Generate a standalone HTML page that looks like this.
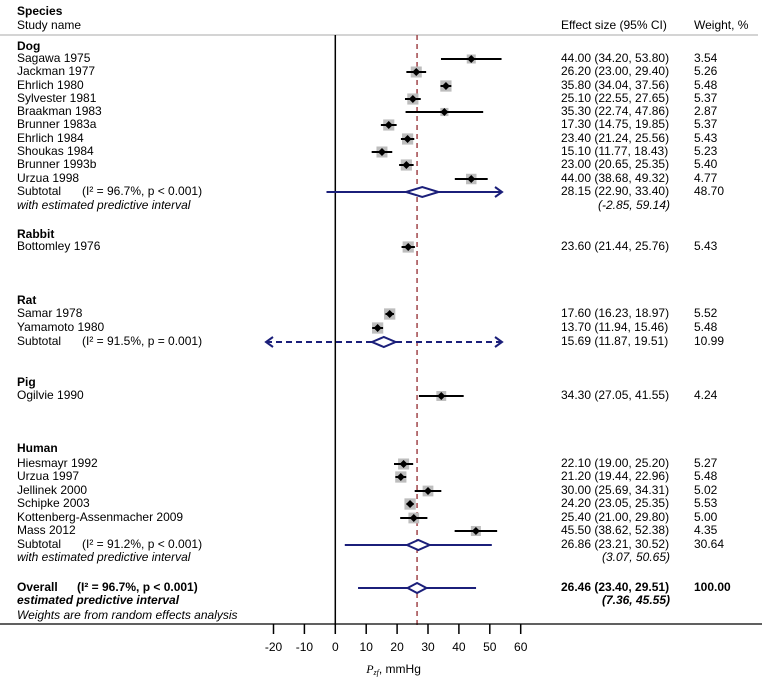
<!DOCTYPE html>
<html><head><meta charset="utf-8"><style>
body{margin:0;background:#fff}
svg{display:block;font-family:"Liberation Sans",Arial,sans-serif;font-size:12px}
</style></head><body>
<svg id="c" width="762" height="682"></svg>
<script>
const studies=["Sagawa 1975","Jackman 1977","Ehrlich 1980","Sylvester 1981","Braakman 1983","Brunner 1983a","Ehrlich 1984","Shoukas 1984","Brunner 1993b","Urzua 1998","Bottomley 1976","Samar 1978","Yamamoto 1980","Ogilvie 1990","Hiesmayr 1992","Urzua 1997","Jellinek 2000","Schipke 2003","Kottenberg-Assenmacher 2009","Mass 2012"];
const est=[44.00,26.20,35.80,25.10,35.30,17.30,23.40,15.10,23.00,44.00,23.60,17.60,13.70,34.30,22.10,21.20,30.00,24.20,25.40,45.50];
const lo=[34.20,23.00,34.04,22.55,22.74,14.75,21.24,11.77,20.65,38.68,21.44,16.23,11.94,27.05,19.00,19.44,25.69,23.05,21.00,38.62];
const hi=[53.80,29.40,37.56,27.65,47.86,19.85,25.56,18.43,25.35,49.32,25.76,18.97,15.46,41.55,25.20,22.96,34.31,25.35,29.80,52.38];
const wts=[3.54,5.26,5.48,5.37,2.87,5.37,5.43,5.23,5.40,4.77,5.43,5.52,5.48,4.24,5.27,5.48,5.02,5.53,5.00,4.35];
const rowY=[59,72,86,99,112,125,139,152,165,179,247,314,328,396,464,477,491,504,518,531];
const subLabels=["(I² = 96.7%, p < 0.001)","(I² = 91.5%, p = 0.001)","(I² = 91.2%, p < 0.001)"];
const subEst=[28.15,15.69,26.86];
const subLo=[22.90,11.87,23.21];
const subHi=[33.40,19.51,30.52];
const subW=["48.70","10.99","30.64"];
const subPredLo=[-2.85,-30,3.07];
const subPredHi=[59.14,60,50.65];
const subDashed=[false,true,false];
const subY=[192,342,545];
const predY=[206,null,558];
const overall=[26.46,23.40,29.51];
const overallPred=[7.36,45.55];
const ticks=[-20,-10,0,10,20,30,40,50,60];
const groups=[["Dog",47],["Rabbit",235],["Rat",301],["Pig",383],["Human",449]];

const svg=document.getElementById('c');const NS="http://www.w3.org/2000/svg";
const X=v=>335.3+v*3.09;const XMIN=266,XMAX=502;const LX=17;
const NAVY="#1b1f7a";
function el(t,a,p){const e=document.createElementNS(NS,t);for(const k in a)e.setAttribute(k,a[k]);(p||svg).appendChild(e);return e;}
function txt(s,x,y,o){const e=el('text',Object.assign({x:x,y:y,'dominant-baseline':'middle'},o||{}));e.textContent=s;return e;}
function f2(v){return v.toFixed(2);}

let t=txt("Species",LX,12,{'font-weight':'bold'});
t=txt("Study name",LX,26);
t=txt("Effect size (95% CI)",561,26);
t=txt("Weight, %",694,26);
let l=el('line',{x1:0,x2:758,y1:35,y2:35,stroke:'#bbb','stroke-width':1.2});

groups.forEach(g=>{const e=txt(g[0],LX,g[1],{'font-weight':'bold'});});

l=el('line',{x1:X(0),x2:X(0),y1:35,y2:625,stroke:'#000','stroke-width':1.5});
l=el('line',{x1:X(overall[0]),x2:X(overall[0]),y1:35,y2:625,stroke:'#a0464a','stroke-width':1.5,'stroke-dasharray':'5,4'});
l=el('line',{x1:0,x2:762,y1:624,y2:624,stroke:'#000','stroke-width':1.2});
ticks.forEach(v=>{const k=el('line',{x1:X(v),x2:X(v),y1:624,y2:634,stroke:'#000','stroke-width':1.5});
 const e=txt(String(v),X(v),648,{'text-anchor':'middle'});});
t=el('text',{x:X(10),y:670,'dominant-baseline':'middle'});t.innerHTML='<tspan font-family="Liberation Serif" font-style="italic">P<tspan font-size="8" dy="3">zf</tspan></tspan><tspan dy="-3">, mmHg</tspan>';


studies.forEach((s,i)=>{const y=rowY[i];
 let e=txt(s,LX,y);
 e=txt(f2(est[i])+" ("+f2(lo[i])+", "+f2(hi[i])+")",561,y);
 e=txt(f2(wts[i]),694,y);
 const sz=Math.sqrt(wts[i])*4.8,cx=X(est[i]);
 e=el('rect',{x:cx-sz/2,y:y-sz/2,width:sz,height:sz,fill:'#bdbdbd'});
 e=el('line',{x1:X(lo[i]),x2:X(hi[i]),y1:y,y2:y,stroke:'#000','stroke-width':2});
 e=el('polygon',{points:`${cx-4},${y} ${cx},${y-4} ${cx+4},${y} ${cx},${y+4}`,fill:'#000'});
});

function predLine(a,b,y,dashed){
 const x1=Math.max(XMIN,X(a)),x2=Math.min(XMAX,X(b));
 const o={x1:x1,x2:x2,y1:y,y2:y,stroke:NAVY,'stroke-width':2};if(dashed)o['stroke-dasharray']='6,4';
 const e=el('line',o);
 if(X(b)>XMAX){const h=el('path',{d:`M${x2-7},${y-5} L${x2},${y} L${x2-7},${y+5}`,stroke:NAVY,'stroke-width':2,fill:'none'});}
 if(X(a)<XMIN){const h=el('path',{d:`M${x1+7},${y-5} L${x1},${y} L${x1+7},${y+5}`,stroke:NAVY,'stroke-width':2,fill:'none'});}
}
function diamond(e0,a,b,y){const d=el('polygon',{points:`${X(a)},${y} ${X(e0)},${y-5} ${X(b)},${y} ${X(e0)},${y+5}`,fill:'#fff',stroke:NAVY,'stroke-width':2});}

subLabels.forEach((s,i)=>{const y=subY[i];
 let e=txt("Subtotal",LX,y);
 e=txt(s,82,y);
 e=txt(f2(subEst[i])+" ("+f2(subLo[i])+", "+f2(subHi[i])+")",561,y);
 e=txt(subW[i],694,y);
 predLine(subPredLo[i],subPredHi[i],y,subDashed[i]);diamond(subEst[i],subLo[i],subHi[i],y);
 if(predY[i]){e=txt("with estimated predictive interval",LX,predY[i],{'font-style':'italic'});
  e=txt("("+f2(subPredLo[i])+", "+f2(subPredHi[i])+")",670,predY[i],{'font-style':'italic','text-anchor':'end'});}
});

t=txt("Overall",LX,588,{'font-weight':'bold'});
t=txt("(I² = 96.7%, p < 0.001)",77,588,{'font-weight':'bold'});
t=txt(f2(overall[0])+" ("+f2(overall[1])+", "+f2(overall[2])+")",561,588,{'font-weight':'bold'});
t=txt("100.00",694,588,{'font-weight':'bold'});
predLine(overallPred[0],overallPred[1],588,false);diamond(overall[0],overall[1],overall[2],588);
t=txt("estimated predictive interval",LX,601,{'font-weight':'bold','font-style':'italic'});
t=txt("("+f2(overallPred[0])+", "+f2(overallPred[1])+")",670,601,{'font-weight':'bold','font-style':'italic','text-anchor':'end'});
t=txt("Weights are from random effects analysis",LX,616,{'font-style':'italic'});
</script>
</body></html>
